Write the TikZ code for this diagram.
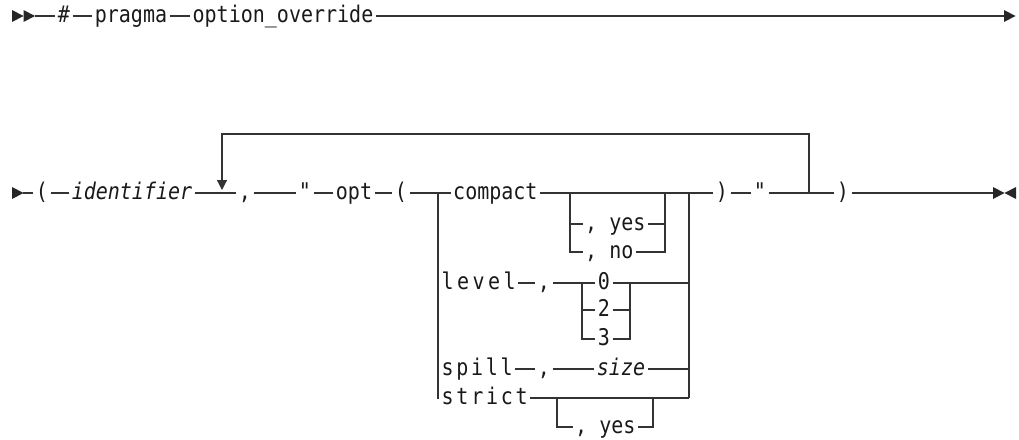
\documentclass[tikz,border=0pt]{standalone}
\usepackage{fontspec}
\newfontfamily\dvmono[FakeStretch=0.87]{DejaVu Sans Mono}
\usetikzlibrary{arrows.meta}
\newcommand\spreadtxt[2]{\makebox[#1][s]{#2}}
\begin{document}
\begin{tikzpicture}[x=1pt,y=-1pt,
  tx/.style={font=\fontsize{23}{26}\selectfont\dvmono, text=black!90, inner xsep=2.5pt, inner ysep=0pt, text height=16pt, text depth=3.5pt},
  ti/.style={tx, font=\fontsize{23}{26}\selectfont\dvmono\itshape},
  ln/.style={line width=1.2pt, draw=black!80},
  ah/.style={fill=black!85}]
\useasboundingbox (0,0) rectangle (1019,439);

% ---------- top row ----------
\fill[ah] (12,10) -- (23.5,16) -- (12,22) -- cycle;
\fill[ah] (23.5,10) -- (35,16) -- (23.5,22) -- cycle;
\coordinate (s0) at (35,16);
\node[tx] (hash) at (64,16) {\#};
\node[tx] (pragma) at (131,16) {pragma};
\node[tx] (optov) at (283,16) {option\_override};
\coordinate (e0) at (1004,16);
\draw[ln] (s0) -- (hash.west);
\draw[ln] (hash.east) -- (pragma.west);
\draw[ln] (pragma.east) -- (optov.west);
\draw[ln] (optov.east) -- (e0);
\fill[ah] (1004,10) -- (1015.5,16) -- (1004,22) -- cycle;

% ---------- main row ----------
\fill[ah] (12,187) -- (23.5,193) -- (12,199) -- cycle;
\coordinate (s1) at (23,193);
\node[tx] (lp1) at (42,193) {(};
\node[ti] (ident) at (132,193) {identifier};
\coordinate (lpL) at (222,193);
\node[tx] (comma1) at (245,193) {,};
\node[tx] (q1) at (305,193) {"};
\node[tx] (opt) at (354,193) {opt};
\node[tx] (lp2) at (401,193) {(};
\coordinate (bL) at (438,193);
\node[tx, anchor=west] (compact) at (450.5,193) {compact};
\coordinate (cL) at (570,193);
\coordinate (cR) at (665,193);
\coordinate (bR) at (689,193);
\node[tx] (rp1) at (722,193) {)};
\node[tx] (q2) at (760,193) {"};
\coordinate (lpR) at (809,193);
\node[tx] (rp2) at (843,193) {)};
\coordinate (e1) at (993,193);

\draw[ln] (s1) -- (lp1.west);
\draw[ln] (lp1.east) -- (ident.west);
\draw[ln] (ident.east) -- (comma1.west);
\draw[ln] (comma1.east) -- (q1.west);
\draw[ln] (q1.east) -- (opt.west);
\draw[ln] (opt.east) -- (lp2.west);
\draw[ln] (lp2.east) -- (compact.west);
\draw[ln] (compact.east) -- (rp1.west);
\draw[ln] (rp1.east) -- (q2.west);
\draw[ln] (q2.east) -- (rp2.west);
\draw[ln] (rp2.east) -- (e1);
\fill[ah] (993,187) -- (1004.5,193) -- (993,199) -- cycle;
\fill[ah] (1016,187) -- (1004.5,193) -- (1016,199) -- cycle;

% repeat loop
\coordinate (loopTR) at (809,134);
\coordinate (loopTL) at (222,134);
\coordinate (loopTip) at (222,190);
\draw[ln, -{Triangle[width=10pt,length=10pt]}] (lpR) -- (loopTR) -- (loopTL) -- (loopTip);

% compact options
\node[tx, anchor=west] (yes1) at (582.5,224) {, yes};
\node[tx, anchor=west] (no1) at (582.5,252) {, no};
\draw[ln] (cL) |- (yes1.west);
\draw[ln] (cL) |- (no1.west);
\draw[ln] (yes1.east) -| (cR);
\draw[ln] (no1.east) -| (cR);

% outer choice
\node[tx, anchor=west] (level) at (439,283) {\spreadtxt{74pt}{l\hfil e\hfil v\hfil e\hfil l}};
\node[tx, anchor=west] (spill) at (439,369) {\spreadtxt{71pt}{s\hfil p\hfil i\hfil l\hfil l}};
\node[tx, anchor=west] (strict) at (439,398) {\spreadtxt{86pt}{s\hfil t\hfil r\hfil i\hfil c\hfil t}};
\coordinate (bRs) at (689,398);
\draw[ln] (bL) |- (strict.west);
\draw[ln] (bL) |- (level.west);
\draw[ln] (bL) |- (spill.west);
\draw[ln] (bR) -- (bRs);

% level row
\node[tx] (comma2) at (544,283) {,};
\coordinate (lvL) at (582,283);
\coordinate (lvR) at (630,283);
\node[tx] (zero) at (604,283) {0};
\node[tx] (two) at (604,310) {2};
\node[tx] (three) at (604,339) {3};
\draw[ln] (level.east) -- (comma2.west);
\draw[ln] (comma2.east) -- (zero.west);
\draw[ln] (zero.east) -- (zero.east -| bR);
\draw[ln] (lvL) |- (two.west);
\draw[ln] (lvL) |- (three.west);
\draw[ln] (two.east) -| (lvR);
\draw[ln] (three.east) -| (lvR);

% spill row
\node[tx] (comma3) at (544,369) {,};
\node[ti] (size) at (621,369) {size};
\draw[ln] (spill.east) -- (comma3.west);
\draw[ln] (comma3.east) -- (size.west);
\draw[ln] (size.east) -- (size.east -| bR);

% strict row
\coordinate (stL) at (557,398);
\coordinate (stR) at (653,398);
\node[tx, anchor=west] (yes2) at (572.5,427) {, yes};
\draw[ln] (strict.east) -- (bRs);
\draw[ln] (stL) |- (yes2.west);
\draw[ln] (yes2.east) -| (stR);
\end{tikzpicture}
\end{document}
